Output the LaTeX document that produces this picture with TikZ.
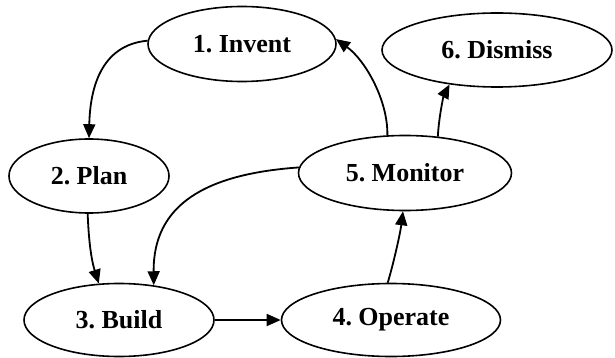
\documentclass[tikz,border=0pt]{standalone}
\usepackage{fontspec}
\setmainfont{Liberation Serif}[WordSpace=0.65]
\usetikzlibrary{shapes.geometric,arrows.meta}
\tikzset{
  stage/.style={ellipse, draw, line width=1.6pt, inner sep=0pt,
    font=\fontsize{26}{28}\selectfont\bfseries},
  flow/.style={line width=1.8pt, -{Triangle[length=14pt,width=12pt]}}
}
\begin{document}
\begin{tikzpicture}[x=1pt,y=-1pt]
\useasboundingbox (0,0) rectangle (615,358);
% life-cycle stages
\node[stage, minimum width=188pt, minimum height=75pt] (invent)  at (242,44)  {1. Invent};
\node[stage, minimum width=230pt, minimum height=74pt] (dismiss) at (497,50)  {6. Dismiss};
\node[stage, minimum width=160pt, minimum height=74pt] (plan)    at (89,176)  {2. Plan};
\node[stage, minimum width=213pt, minimum height=75pt] (monitor) at (405,173) {5. Monitor};
\node[stage, minimum width=190pt, minimum height=73pt] (build)   at (119,320) {3. Build};
\node[stage, minimum width=219pt, minimum height=73pt] (operate) at (391,320) {4. Operate};
% transitions
\draw[flow] (invent.178) .. controls (100,45) and (90,90) .. (plan.north);
\draw[flow] (plan.268) .. controls (89,250) and (93,265) .. (build.119);
\draw[flow] (build.east) -- (operate.west);
\draw[flow] (operate.95) .. controls (393,265) and (400,235) .. (monitor.267);
\draw[flow] (monitor.177) .. controls (205,174) and (153,205) .. (build.45);
\draw[flow] (monitor.115) .. controls (388,100) and (365,60) .. (invent.3);
\draw[flow] (monitor.48) .. controls (439,115) and (444,95) .. (dismiss.216);
\end{tikzpicture}
\end{document}
